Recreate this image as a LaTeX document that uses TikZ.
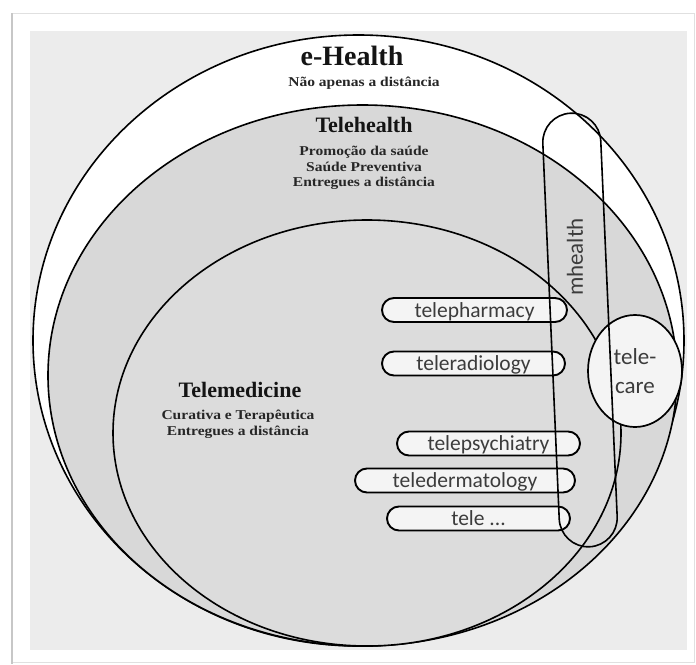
\documentclass[tikz,border=0pt]{standalone}
\usepackage{fontspec}
\setmainfont{Liberation Serif}
\newfontfamily\titlefont{Liberation Serif}
\newfontfamily\notefont{Liberation Serif}[FakeStretch=1.15]
\newfontfamily\pillfont{Carlito}
\usetikzlibrary{positioning}
\usetikzlibrary{shapes.misc}
\usetikzlibrary{shapes.geometric}

\definecolor{framegray}{RGB}{236,236,236}
\definecolor{healthgray}{RGB}{216,216,216}
\definecolor{medgray}{RGB}{220,220,220}
\definecolor{pillwhite}{RGB}{244,244,244}
\definecolor{labelgray}{RGB}{60,60,60}

\tikzset{
  ring/.style={draw=black, line width=1.6pt},
  bigtitle/.style={inner sep=0.75pt, text=black!92, font=\titlefont\bfseries\fontsize{28}{30}\selectfont},
  midtitle/.style={inner sep=0.75pt, text=black!92, font=\titlefont\bfseries\fontsize{22}{24}\selectfont},
  note/.style={inner sep=0.75pt, align=center, text=black!85, font=\notefont\bfseries\fontsize{13.5}{15.5}\selectfont},
  pill/.style={draw=black, line width=1.9pt, fill=pillwhite, rounded rectangle,
    minimum width=183pt, minimum height=24pt, inner sep=0pt,
    text height=14pt, text depth=0pt, text=labelgray,
    font=\pillfont\fontsize{21.5}{24}\selectfont},
}

\begin{document}
\begin{tikzpicture}[x=1pt,y=1pt,yscale=-1,xscale=1]
\useasboundingbox (0,0) rectangle (696,664);

%Shape: Rectangle
\fill [white] (0,0) rectangle (696,664);
\draw [color=black!12, line width=0.8pt] (12,13) rectangle (694,662);
\draw [color=black!22, line width=2pt] (12,13) -- (12,664);
\fill [framegray] (30,31) rectangle (687,650);

%Shape: Ellipse
\draw [ring, fill=white] (358.5,340.5) ellipse [x radius=325.5pt, y radius=305.5pt];
%Shape: Ellipse
\draw [ring, fill=healthgray] (362.5,375.5) ellipse [x radius=314.5pt, y radius=270.5pt];
%Shape: Ellipse
\draw [ring, fill=medgray] (367,433) ellipse [x radius=254pt, y radius=213pt];

% Text Node
\node [bigtitle] (ehealth) at (352,56) {e-Health};
% Text Node
\node [note] (ehealthnote) at (364,83) {Não apenas a distância};
% Text Node
\node [midtitle] (telehealth) at (364,125) {Telehealth};
% Text Node
\node [note] (telehealthnote) at (364,168) {Promoção da saúde\\Saúde Preventiva\\Entregues a distância};
% Text Node
\node [midtitle] (telemedicine) at (240,390) {Telemedicine};
% Text Node
\node [note] (telemedicinenote) at (238,424) {Curativa e Terapêutica\\Entregues a distância};

%Shape: Pills
\node [pill, minimum width=185pt] (telepharmacy) at (474.5,310) {telepharmacy};
\node [pill] (teleradiology) at (473.5,363.5) {teleradiology};
\node [pill] (telepsychiatry) at (488.5,443.5) {telepsychiatry};
\node [pill, minimum width=220pt] (teledermatology) at (465,480.5) {teledermatology};
\node [pill] (teleetc) at (478.5,518.5) {tele ...};

%Shape: Ellipse
\node [ellipse, draw=black, line width=1.7pt, fill=pillwhite, minimum width=94pt, minimum height=112pt,
  inner sep=0pt, align=center, text=labelgray, font=\pillfont\fontsize{23}{29}\selectfont] (telecare) at (635,371) {tele-\\care};

%Shape: Rounded Rect
\draw [ring, rotate around={-2.5:(580,330)}, rounded corners=29pt] (551,113) rectangle (609,547);
% Text Node
\node [rotate=90, inner sep=0pt, text=labelgray, font=\pillfont\fontsize{23}{25}\selectfont] (mhealthlabel) at (575,257) {mhealth};

\end{tikzpicture}
\end{document}
